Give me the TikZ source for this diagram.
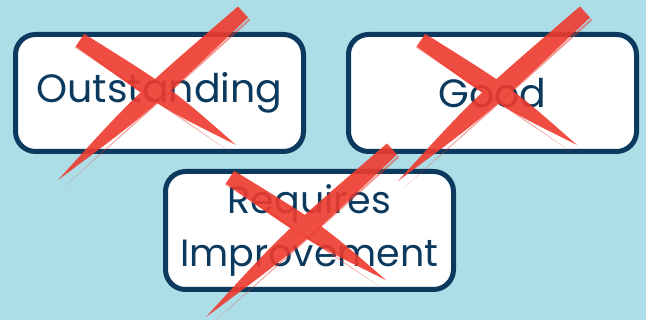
\documentclass[tikz,border=0pt]{standalone}
\usepackage{fontspec}
\setmainfont{Poppins}
\usetikzlibrary{calc}
\definecolor{bgblue}{HTML}{ADDEE8}
\definecolor{navy}{HTML}{0B3A5E}
\definecolor{xred}{HTML}{EE3A2E}
\tikzset{
  box/.style={draw=navy, line width=5pt, fill=white, rounded corners=20pt,
    minimum width=288pt, minimum height=117pt, inner sep=0pt, text=navy,
    font=\fontsize{39.5}{48}\selectfont},
  brushred/.style={fill=xred},
  streak/.style={fill=xred, opacity=0.5}
}
% #1 wide end, #2 tip, #3 half width at start, #4 half width at middle
\newcommand\brushstroke[4]{%
  \fill[brushred] ($(#1)!#3!90:(#2)$)
    .. controls ($(#1)!0.55!(#2)!#4!90:(#2)$) .. (#2)
    .. controls ($(#1)!0.55!(#2)!#4!-90:(#2)$) .. ($(#1)!#3!-90:(#2)$)
    -- cycle;
}
% thin bristle streak: from #1 to #2 offset sideways by #3, half width #4
\newcommand\streakline[4]{%
  \fill[streak] ($(#1)!#3!90:(#2)!#4!90:(#2)$)
    .. controls ($(#1)!0.4!(#2)!#3!90:(#2)!#4!90:(#2)$) .. ($(#2)!#3!-90:(#1)$)
    .. controls ($(#1)!0.4!(#2)!#3!90:(#2)$) .. ($(#1)!#3!90:(#2)$) -- cycle;
}
\begin{document}
\begin{tikzpicture}[x=1pt,y=-1pt]
\fill[bgblue] (0,0) rectangle (646,320);
\useasboundingbox (0,0) rectangle (646,320);

\node[box] (out) at (159.5,93) {Outstanding};
\node[box] (good) at (492.5,93) {Good};
\node[box, minimum height=118pt, align=center, font=\fontsize{38}{53}\selectfont]
  (req) at (309.5,230.5) {Requires\\Improvement};

% X over Outstanding
\coordinate (o1a) at (80,40);  \coordinate (o1b) at (236,145);
\coordinate (o2a) at (243,12); \coordinate (o2b) at (58,180);
% X over Good
\coordinate (g1a) at (421,40);  \coordinate (g1b) at (577,145);
\coordinate (g2a) at (585,12); \coordinate (g2b) at (398,181);
% X over Requires Improvement
\coordinate (r1a) at (230,177);  \coordinate (r1b) at (386,280);
\coordinate (r2a) at (392,149); \coordinate (r2b) at (206,317);

\foreach \p in {o,g,r}{
  \begin{scope}[transparency group, opacity=0.9]
    \brushstroke{\p1a}{\p1b}{7.5pt}{11pt}
    \brushstroke{\p2a}{\p2b}{7.5pt}{11pt}
  \end{scope}
  \streakline{\p1a}{\p1b}{-9pt}{2pt}
  \streakline{\p2a}{\p2b}{9pt}{2pt}
}
\end{tikzpicture}
\end{document}
